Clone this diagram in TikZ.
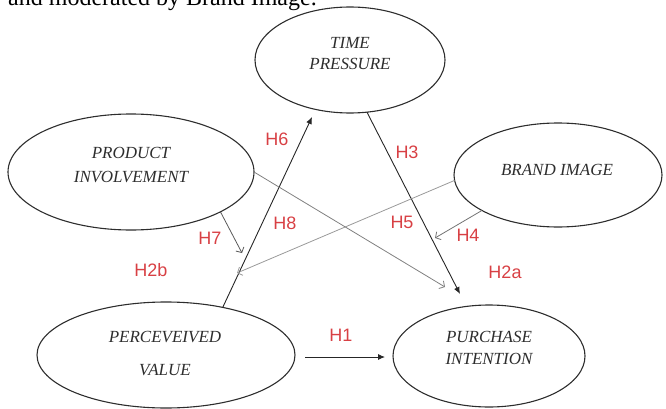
\documentclass[tikz,border=0pt]{standalone}
\usepackage{fontspec}
\setmainfont{Liberation Serif}
\newfontfamily\labelfont{Liberation Sans}
\usetikzlibrary{arrows.meta,shapes.geometric}
\definecolor{hred}{RGB}{216,64,68}
\definecolor{ink}{RGB}{45,45,45}
\begin{document}
\begin{tikzpicture}[x=1pt,y=-1pt,
  construct/.style={ellipse, draw=ink, line width=1.1pt, inner sep=0pt, outer sep=0pt},
  ctext/.style={font=\fontsize{17}{#1}\selectfont\itshape, text=ink, align=center, inner sep=0pt},
  hyp/.style={font=\labelfont\fontsize{18}{18}\selectfont, text=hred, inner sep=0pt},
  strong/.style={draw=black!85, line width=0.9pt, -{Latex[length=7pt,width=6pt]}},
  weak/.style={line width=0.8pt, -{Straight Barb[length=4pt,width=9pt]}}]
\clip (0,0) rectangle (666,409);
\node[anchor=base west, font=\fontsize{24}{24}\selectfont, inner sep=0pt] (intro) at (8,5.5) {and moderated by Brand Image.};
% constructs
\node[construct, minimum width=190pt, minimum height=106pt] (tp) at (350,60) {};
\node[construct, minimum width=246pt, minimum height=116pt] (pi) at (131,172) {};
\node[construct, minimum width=208pt, minimum height=104pt] (brand) at (558,175) {};
\node[construct, minimum width=258pt, minimum height=106pt] (pv) at (166,355) {};
\node[construct, minimum width=192pt, minimum height=102pt] (pur) at (489,356) {};
\node[ctext=21] (tpT) at (350,53.5) {TIME\\PRESSURE};
\node[ctext=24] (piT) at (131,165) {PRODUCT\\INVOLVEMENT};
\node[ctext=17] (brandT) at (557,170) {BRAND IMAGE};
\node[ctext=33] (pvT) at (165,353.5) {PERCEVEIVED\\VALUE};
\node[ctext=22] (purT) at (489,348) {PURCHASE\\INTENTION};
% free ends
\coordinate (h6e) at (312,117);
\coordinate (h3e) at (460,294);
\coordinate (h1s) at (305,357);
\coordinate (h1e) at (385,357);
\coordinate (h8e) at (445,287);
\coordinate (h7e) at (242,253);
\coordinate (h5e) at (237,273);
\coordinate (h4e) at (435,238);
% connectors
\draw[strong] (pv.40) -- (h6e);
\draw[strong] (tp.-72) -- (h3e);
\draw[strong] (h1s) -- (h1e);
\draw[weak, draw=black!65] (pi.-24) -- (h7e);
\draw[weak, draw=black!40] (brand.183) -- (h5e);
\draw[weak, draw=black!50] (pi.east) -- (h8e);
\draw[weak, draw=black!55] (brand.205) -- (h4e);
% labels
\node[hyp] (l6) at (277,139) {H6};
\node[hyp] (l3) at (407,152) {H3};
\node[hyp] (l7) at (210,238) {H7};
\node[hyp] (l8) at (285,223) {H8};
\node[hyp] (l5) at (402,222) {H5};
\node[hyp] (l4) at (468,235) {H4};
\node[hyp] (l2b) at (151,270) {H2b};
\node[hyp] (l2a) at (505,272) {H2a};
\node[hyp] (l1) at (341,335) {H1};
\end{tikzpicture}
\end{document}
